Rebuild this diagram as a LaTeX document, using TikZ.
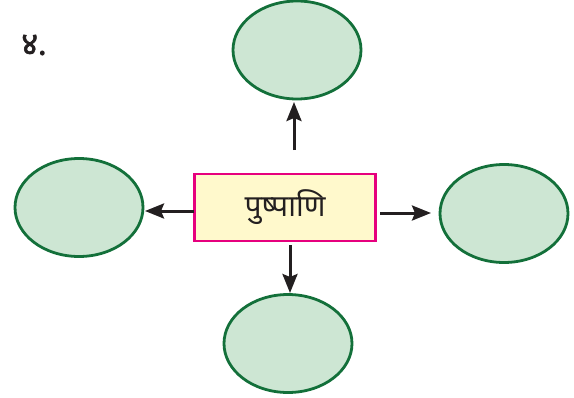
\documentclass[tikz,border=0pt]{standalone}
\usepackage{fontspec}
\newfontfamily\devfont[Script=Devanagari]{Noto Sans}
\newfontfamily\devboldfont[Script=Devanagari,FakeBold=2]{Noto Sans}
\usetikzlibrary{arrows.meta,shapes.geometric}
\definecolor{ellfill}{HTML}{CDE6D3}
\definecolor{elldraw}{HTML}{13703A}
\definecolor{boxfill}{HTML}{FFF9CC}
\definecolor{boxdraw}{HTML}{E6007E}
\definecolor{arrowcol}{HTML}{231F20}
\tikzset{
  bubble/.style={ellipse, draw=elldraw, fill=ellfill, line width=2.8pt, minimum width=128pt, minimum height=98pt, inner sep=0pt},
  centerbox/.style={rectangle, draw=boxdraw, fill=boxfill, line width=2.6pt, minimum width=181pt, minimum height=67pt, inner sep=0pt, font=\devfont\fontsize{30}{34}\selectfont, text=arrowcol},
  arr/.style={draw=arrowcol, line width=3pt, -{Stealth[length=19pt,width=15pt,inset=3pt]}}
}
\begin{document}
\begin{tikzpicture}[x=1pt,y=-1pt]
\useasboundingbox (0,0) rectangle (574,397);
\node[font=\devboldfont\fontsize{32}{36}\selectfont, text=arrowcol] (num) at (34,45) {४.};
\node[bubble] (top) at (297,50) {};
\node[bubble] (left) at (79,207.5) {};
\node[bubble] (right) at (504,213.5) {};
\node[bubble] (bottom) at (288,343.5) {};
\node[centerbox] (box) at (285,207.5) {पुष्पाणि};
\coordinate (upstart) at (294,150);
\coordinate (upend) at (294,102);
\coordinate (leftstart) at (194,211);
\coordinate (leftend) at (145,211);
\coordinate (rightstart) at (380,213);
\coordinate (rightend) at (431,213);
\coordinate (downstart) at (290,245);
\coordinate (downend) at (290,293);
\draw[arr] (upstart) -- (upend);
\draw[arr] (leftstart) -- (leftend);
\draw[arr] (rightstart) -- (rightend);
\draw[arr] (downstart) -- (downend);
\end{tikzpicture}
\end{document}
